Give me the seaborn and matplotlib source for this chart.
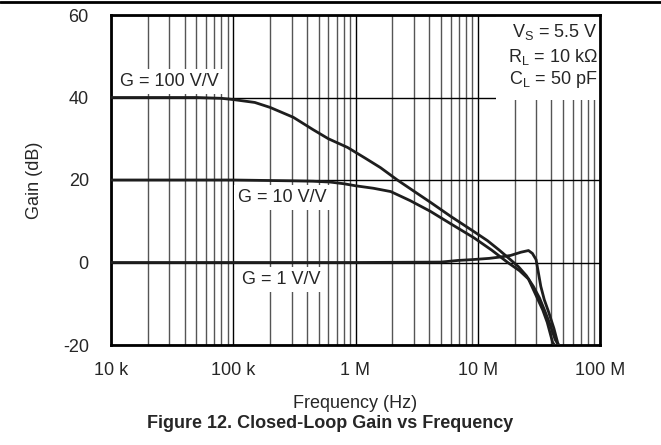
import numpy as np
import pandas as pd
import matplotlib.pyplot as plt
import seaborn as sns
from matplotlib.lines import Line2D
from matplotlib.patches import Rectangle
from matplotlib.ticker import FixedLocator, LogLocator, NullFormatter

# closed-loop gain curves (Hz, dB)
freq_g100 = [1e4, 5e4, 8e4, 1e5, 1.5e5, 2e5, 3.1e5, 4.5e5, 6e5, 8.6e5, 1.2e6, 1.6e6,
             2.2e6, 3e6, 4.1e6, 6e6, 9.3e6, 1.2e7, 1.5e7, 1.8e7, 2.15e7, 2.5e7,
             2.85e7, 3.2e7, 3.5e7, 3.9e7, 4.3e7, 4.8e7]
gain_g100 = [40, 40, 39.8, 39.5, 38.8, 37.6, 35.2, 32.2, 30.0, 27.9, 25.3, 23.0,
             20.0, 17.3, 14.6, 11.2, 7.5, 5.3, 3.0, 1.0, -1.0, -3.2,
             -5.8, -8.6, -11.4, -15.0, -18.7, -21.0]

freq_g10 = [1e4, 1e5, 3e5, 4.5e5, 6.2e5, 8e5, 1e6, 1.4e6, 1.94e6, 2.8e6, 4.1e6, 6e6,
            9.3e6, 1.3e7, 1.76e7, 2.2e7, 2.6e7, 3.0e7, 3.4e7, 3.7e7, 4.1e7, 4.5e7]
gain_g10 = [20, 20, 19.8, 19.7, 19.5, 19.1, 18.6, 18.0, 17.2, 15.0, 12.4, 9.4,
            6.0, 3.0, 0.0, -2.0, -4.0, -8.0, -11.5, -14.5, -19.4, -21.0]

freq_g1 = [1e4, 1e6, 5e6, 6.9e6, 9e6, 1.24e7, 1.5e7, 1.85e7, 2.26e7, 2.6e7, 2.8e7,
           3.0e7, 3.28e7, 3.5e7, 3.8e7, 4.2e7, 4.5e7, 4.7e7]
gain_g1 = [0, 0, 0.1, 0.5, 0.7, 1.0, 1.3, 1.7, 2.5, 2.9, 2.2, 0.7, -5.8, -9.0,
           -12.0, -16.0, -19.4, -21.0]

labels = ['G = 100 V/V', 'G = 10 V/V', 'G = 1 V/V']
x_ticks = [1e4, 1e5, 1e6, 1e7, 1e8]
x_ticklabels = ['10 k', '100 k', '1 M', '10 M', '100 M']
y_ticks = [-20, 0, 20, 40, 60]

df = pd.concat([
    pd.DataFrame({'freq': freq_g100, 'gain': gain_g100, 'gain_setting': labels[0]}),
    pd.DataFrame({'freq': freq_g10, 'gain': gain_g10, 'gain_setting': labels[1]}),
    pd.DataFrame({'freq': freq_g1, 'gain': gain_g1, 'gain_setting': labels[2]}),
])

sns.set_style('white')
plt.rcParams['font.family'] = ['Liberation Sans', 'DejaVu Sans']
plt.rcParams['mathtext.fontset'] = 'custom'
plt.rcParams['mathtext.rm'] = 'Liberation Sans'

fig = plt.figure(figsize=(6.61, 4.45), dpi=100)
ax = fig.add_axes([111 / 661, 1 - 345 / 445, 489 / 661, 330 / 445])

sns.lineplot(data=df, x='freq', y='gain', hue='gain_setting', units='gain_setting',
             estimator=None, palette=['#1e1e1e'] * 3, linewidth=2.0, legend=False,
             sort=False, ax=ax, zorder=3)

ax.set_xscale('log')
ax.set_xlim(1e4, 1e8)
ax.set_ylim(-20, 60)
ax.xaxis.set_major_locator(FixedLocator(x_ticks))
ax.set_xticklabels(x_ticklabels)
ax.xaxis.set_minor_locator(LogLocator(base=10, subs=np.arange(2, 10)))
ax.xaxis.set_minor_formatter(NullFormatter())
ax.set_yticks(y_ticks)
ax.set_yticklabels([str(v) for v in y_ticks])

ax.set_axisbelow(True)
ax.grid(which='major', axis='both', color='black', linewidth=1.0)
ax.grid(which='minor', axis='x', color='#555555', linewidth=1.0)
ax.tick_params(which='both', length=0, labelsize=13)
ax.tick_params(axis='x', pad=12)
ax.tick_params(axis='y', pad=16)

for s in ax.spines.values():
    s.set_color('black')
    s.set_linewidth(2)

ax.set_xlabel('Frequency (Hz)', fontsize=13, labelpad=12)
ax.set_ylabel('Gain (dB)', fontsize=13, labelpad=14)

# white patch behind the test-condition note
ax.add_patch(Rectangle((1.4e7, 39.5), 1e8 - 1.4e7, 20.5, facecolor='white',
                       edgecolor='none', zorder=1))
note = [r'V$_\mathregular{S}$ = 5.5 V', r'R$_\mathregular{L}$ = 10 k$\Omega$',
        r'C$_\mathregular{L}$ = 50 pF']
for txt, yv in zip(note, [55.8, 49.9, 44.4]):
    ax.text(9.6e7, yv, txt, ha='right', va='center', fontsize=13, zorder=4)

box = dict(facecolor='white', edgecolor='none', pad=3)
ax.text(1.185e4, 43.9, labels[0], ha='left', va='center', fontsize=13, bbox=box, zorder=4)
ax.text(1.1e5, 15.8, labels[1], ha='left', va='center', fontsize=13, bbox=box, zorder=4)
ax.text(1.18e5, -4.1, labels[2], ha='left', va='center', fontsize=13, bbox=box, zorder=4)

fig.add_artist(Line2D([0, 1], [1 - 1.5 / 445] * 2, color='black', linewidth=2))
fig.text(330 / 661, 1 - 423 / 445, 'Figure 12. Closed-Loop Gain vs Frequency',
         ha='center', va='center', fontsize=13, fontweight='bold')

fig.savefig('out.png', dpi=100)
